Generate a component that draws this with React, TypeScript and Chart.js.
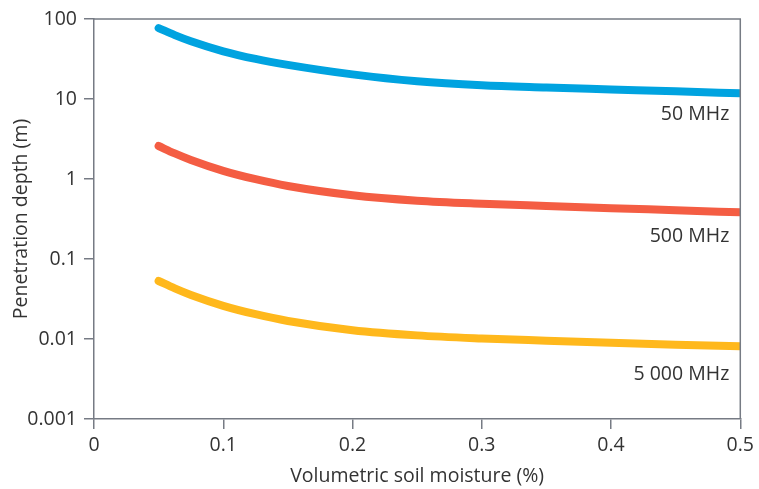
import React, { useEffect, useRef } from "react";
import { Chart, registerables } from "chart.js";

Chart.register(...registerables);

const moisture = [0.05, 0.0625, 0.075, 0.1, 0.125, 0.15, 0.2, 0.25, 0.3, 0.35, 0.4, 0.45, 0.5];
const depth50MHz = [77, 62.9, 52.7, 39.5, 31.7, 26.7, 20.3, 16.65, 14.84, 13.92, 13.17, 12.46, 11.79];
const depth500MHz = [2.585, 2.087, 1.728, 1.266, 0.994, 0.818, 0.627, 0.536, 0.491, 0.46, 0.432, 0.407, 0.383];
const depth5000MHz = [0.0531, 0.0429, 0.0355, 0.026, 0.0204, 0.0168, 0.0129, 0.0111, 0.01016, 0.00953, 0.00897, 0.00849, 0.00811];
const seriesNames = ["50 MHz", "500 MHz", "5 000 MHz"];
const seriesColors = ["#00a3e0", "#f45d43", "#ffb81c"];
const labelValues = [6.5, 0.194, 0.00365];
const yTicks = [0.001, 0.01, 0.1, 1, 10, 100];
const yTickLabels = ["0.001", "0.01", "0.1", "1", "10", "100"];
const xTicks = [0, 0.1, 0.2, 0.3, 0.4, 0.5];
const xTickLabels = ["0", "0.1", "0.2", "0.3", "0.4", "0.5"];

const FONT = "'Open Sans', sans-serif";
const AXIS = "#767b84";
const TEXT = "#333333";
const FS = 19.5;

export default function App() {
  const ref = useRef<HTMLCanvasElement | null>(null);
  useEffect(() => {
    if (!ref.current) return;
    const series = [depth50MHz, depth500MHz, depth5000MHz];
    const frame = {
      id: "frame",
      afterDraw(chart: any) {
        const { ctx, chartArea, scales } = chart;
        ctx.save();
        ctx.strokeStyle = AXIS;
        ctx.lineWidth = 1.5;
        ctx.beginPath();
        ctx.moveTo(chartArea.left, chartArea.top);
        ctx.lineTo(chartArea.right, chartArea.top);
        ctx.lineTo(chartArea.right, chartArea.bottom);
        ctx.stroke();
        ctx.fillStyle = TEXT;
        ctx.font = `${FS}px ${FONT}`;
        ctx.textAlign = "right";
        ctx.textBaseline = "middle";
        const xr = scales.x.getPixelForValue(0.5) - 11;
        seriesNames.forEach((n, i) => {
          ctx.fillText(n, xr, scales.y.getPixelForValue(labelValues[i]));
        });
        ctx.restore();
      },
    };
    const chart = new Chart(ref.current, {
      type: "line",
      data: {
        labels: moisture,
        datasets: series.map((d, i) => ({
          label: seriesNames[i],
          data: d.map((v, j) => ({ x: moisture[j], y: v })),
          borderColor: seriesColors[i],
          backgroundColor: seriesColors[i],
          borderWidth: 8,
          borderCapStyle: "round" as const,
          borderJoinStyle: "round" as const,
          pointRadius: 0,
          cubicInterpolationMode: "monotone" as const,
          fill: false,
        })),
      },
      options: {
        animation: false,
        responsive: false,
        layout: { padding: { top: 19, right: 15, left: 0, bottom: 0 } },
        plugins: { legend: { display: false }, tooltip: { enabled: false } },
        scales: {
          x: {
            type: "linear",
            min: 0,
            max: 0.5,
            afterBuildTicks: (s: any) => {
              s.ticks = xTicks.map((v) => ({ value: v }));
            },
            afterFit: (s: any) => {
              s.height = 70;
            },
            ticks: {
              callback: (v: any) => xTickLabels[xTicks.indexOf(Math.round(Number(v) * 10) / 10)],
              color: TEXT,
              font: { family: FONT, size: FS },
              padding: 5,
              maxRotation: 0,
            },
            grid: { drawOnChartArea: false, tickLength: 10, color: AXIS, lineWidth: 1.5 },
            border: { color: AXIS, width: 1.5 },
            title: {
              display: true,
              text: "Volumetric soil moisture (%)",
              color: TEXT,
              font: { family: FONT, size: FS },
              padding: { top: 0, bottom: 1 },
            },
          },
          y: {
            type: "logarithmic",
            min: 0.001,
            max: 100,
            afterBuildTicks: (s: any) => {
              s.ticks = yTicks.map((v) => ({ value: v, major: true }));
            },
            afterFit: (s: any) => {
              s.width = 94;
            },
            ticks: {
              callback: (v: any) => yTickLabels[yTicks.findIndex((t) => Math.abs(Math.log10(t) - Math.log10(Number(v))) < 1e-6)],
              color: TEXT,
              font: { family: FONT, size: FS },
              padding: 7,
            },
            grid: { drawOnChartArea: false, tickLength: 10, color: AXIS, lineWidth: 1.5 },
            border: { color: AXIS, width: 1.5 },
            title: {
              display: true,
              text: "Penetration depth (m)",
              color: TEXT,
              font: { family: FONT, size: FS },
              padding: { top: 10, bottom: 0 },
            },
          },
        },
      },
      plugins: [frame],
    });
    return () => chart.destroy();
  }, []);
  return (
    <div style={{ position: "absolute", left: 0, top: 0, width: 759, height: 489, background: "#fff" }}>
      <canvas ref={ref} width={759} height={489} style={{ width: 759, height: 489 }} />
    </div>
  );
}
